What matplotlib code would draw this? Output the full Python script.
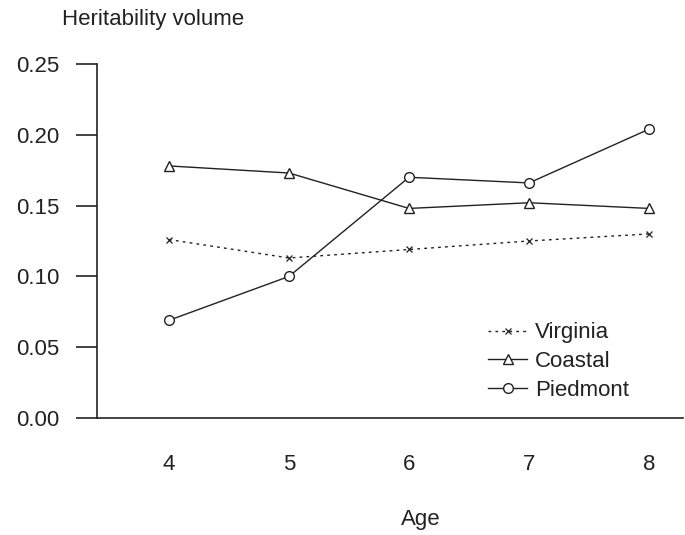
import matplotlib
matplotlib.use("Agg")
import matplotlib.pyplot as plt

ages = [4, 5, 6, 7, 8]
virginia = [0.126, 0.113, 0.119, 0.125, 0.130]
coastal = [0.178, 0.173, 0.148, 0.152, 0.148]
piedmont = [0.069, 0.100, 0.170, 0.166, 0.204]
yticks = [0.00, 0.05, 0.10, 0.15, 0.20, 0.25]

plt.rcParams['font.family'] = ['Liberation Sans', 'DejaVu Sans']
plt.rcParams['font.size'] = 16

fig = plt.figure(figsize=(6.85, 5.35), dpi=100)
ax = fig.add_axes([0.1416, 0.2187, 0.855, 0.6617])

col = '#222222'
ax.plot(ages, virginia, linestyle=(0, (2, 3)), color=col, linewidth=1.0,
        marker='x', markersize=5, markeredgewidth=0.9, label='Virginia')
ax.plot(ages, coastal, linestyle='-', color=col, linewidth=1.0,
        marker='^', markersize=7, markerfacecolor='white', markeredgewidth=1.0,
        label='Coastal')
ax.plot(ages, piedmont, linestyle='-', color=col, linewidth=1.0,
        marker='o', markersize=7, markerfacecolor='white', markeredgewidth=1.0,
        label='Piedmont')

ax.set_xlim(3.4, 8.28)
ax.set_ylim(0, 0.25)
ax.set_xticks(ages)
ax.set_yticks(yticks)
ax.set_yticklabels([f"{v:.2f}" for v in yticks])

for s in ['top', 'right']:
    ax.spines[s].set_visible(False)
for s in ['left', 'bottom']:
    ax.spines[s].set_linewidth(1.2)
    ax.spines[s].set_color(col)

ax.tick_params(axis='y', direction='out', length=15, width=1.2, pad=12, colors=col)
ax.tick_params(axis='x', length=0, pad=26, colors=col)

fig.text(421 / 685, 1 - 525 / 535, 'Age', ha='center', va='baseline', color=col)
fig.text(62 / 685, 1 - 19 / 535, 'Heritability volume', ha='left', va='center', color=col)

leg = ax.legend(loc='lower right', bbox_to_anchor=(0.908, 0.048), frameon=False,
                handlelength=1.75, handletextpad=0.35, labelspacing=0.35,
                borderpad=0.0, borderaxespad=0.0)
for t in leg.get_texts():
    t.set_color(col)

fig.savefig('out.png', dpi=100)
